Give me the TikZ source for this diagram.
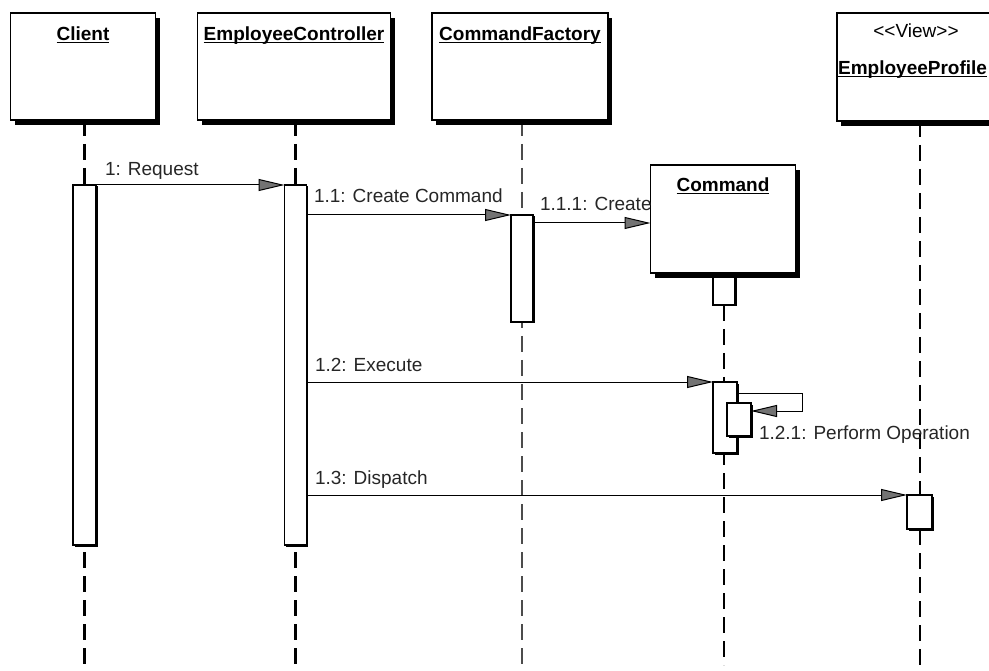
\documentclass[tikz,border=0pt]{standalone}
\usepackage{fontspec}
\setmainfont{Liberation Sans}
\usetikzlibrary{arrows.meta,shadows}
\pgfdeclarelayer{bg}
\pgfsetlayers{bg,main}
\newcommand\myul[1]{\setbox0\hbox{#1}\rlap{\copy0}\rule[-2.5pt]{\wd0}{1.3pt}}
\begin{document}
\begin{tikzpicture}[x=1pt,y=-1pt,
  every node/.style={font=\fontsize{19}{23}\selectfont, inner sep=0pt, outer sep=0pt},
  objbox/.style={draw=black, line width=1.4pt, fill=white,
     drop shadow={shadow xshift=4pt,shadow yshift=-5pt,opacity=1,fill=black}},
  act/.style={draw=black, line width=1.2pt, fill=white,
     drop shadow={shadow xshift=1.5pt,shadow yshift=-1.5pt,opacity=1,fill=black}},
  lifeline/.style={line width=2.5pt, dash pattern=on 16pt off 8pt},
  msg/.style={line width=1pt, -{Triangle[length=26pt,width=12pt,fill=black!55]}},
  title/.style={font=\fontsize{19}{23}\selectfont\bfseries, anchor=base},
  lbl/.style={anchor=base west, text=black!85}
]
\useasboundingbox (0,0) rectangle (989,671);
\clip (0,0) rectangle (989,671);

% object boxes
\node[objbox, minimum width=145pt, minimum height=107pt, anchor=north] (client) at (83,13) {};
\node[objbox, minimum width=193pt, minimum height=107pt, anchor=north] (ec) at (294,13) {};
\node[objbox, minimum width=176pt, minimum height=107pt, anchor=north] (cf) at (520,13) {};
\node[objbox, minimum width=162pt, minimum height=108pt, anchor=north] (ep) at (918,13) {};
\node[objbox, minimum width=145pt, minimum height=108pt, anchor=north] (cmd) at (723,165) {};

\node[title] (clientT) at (83,41) {\myul{Client}};
\node[title] (ecT) at (294,41) {\myul{EmployeeController}};
\node[title] (cfT) at (520,41) {\myul{CommandFactory}};
\node[anchor=base] (epS) at (916,38) {{<}{<}View{>}{>}};
\node[title, anchor=base east] (epT) at (987,75) {\myul{EmployeeProfile}};
\node[title] (cmdT) at (723,192) {\myul{Command}};

% activations
\node[act, minimum width=23pt, minimum height=360pt, anchor=north] (clientA) at (84.5,185) {};
\node[act, minimum width=22pt, minimum height=360pt, anchor=north] (ecA) at (295.5,185) {};
\node[act, minimum width=22pt, minimum height=107pt, anchor=north] (cfA) at (522,215) {};
\node[act, minimum width=22pt, minimum height=28pt, anchor=north] (cmdA0) at (724,277) {};
\node[act, minimum width=24pt, minimum height=71pt, anchor=north] (exA) at (725,382) {};
\node[act, minimum width=24pt, minimum height=33pt, anchor=north] (inA) at (739,403) {};
\node[act, minimum width=25pt, minimum height=34pt, anchor=north] (epA) at (919.5,495) {};

% lifelines
\coordinate (clientE) at (84.5,671);
\coordinate (ecE) at (295.5,671);
\coordinate (cfE) at (522,671);
\coordinate (cmdE) at (724,665);
\coordinate (epE) at (919.5,665);
\begin{pgfonlayer}{bg}
\draw[lifeline] (client.south -| clientE) -- (clientE);
\draw[lifeline] (ec.south -| ecE) -- (ecE);
\draw[lifeline, draw=black!70] (cf.south -| cfE) -- (cfE);
\draw[lifeline] (cmdA0.south -| cmdE) -- (cmdE);
\draw[lifeline, line width=2pt] (ep.south -| epE) -- (epE);
\end{pgfonlayer}

% messages
\draw[msg] (clientA.north east) -- (ecA.north west);
\node[lbl] (l1) at (105,176) {1: Request};

\draw[msg] (ecA.east |- cfA.north) -- (cfA.north west);
\node[lbl] (l11) at (314,203) {1.1: Create Command};

\coordinate (m3s) at ([yshift=-8pt]cfA.north east);
\draw[msg] (m3s) -- (m3s -| cmd.west);
\node[lbl] (l111) at (540,211) {1.1.1: Create};

\draw[msg] (ecA.east |- exA.north) -- (exA.north west);
\node[lbl] (l12) at (315,371) {1.2: Execute};

\coordinate (s1) at ([yshift=-11pt]exA.north east);
\coordinate (s2) at ([yshift=-8pt]inA.north east);
\coordinate (sx) at (802,0);
\draw[msg] (s1) -- (s1 -| sx) -- (s2 -| sx) -- (s2);
\node[lbl] (l121) at (759,439) {1.2.1: Perform Operation};

\draw[msg] (ecA.east |- epA.north) -- (epA.north west);
\node[lbl] (l13) at (315,484) {1.3: Dispatch};
\end{tikzpicture}
\end{document}
